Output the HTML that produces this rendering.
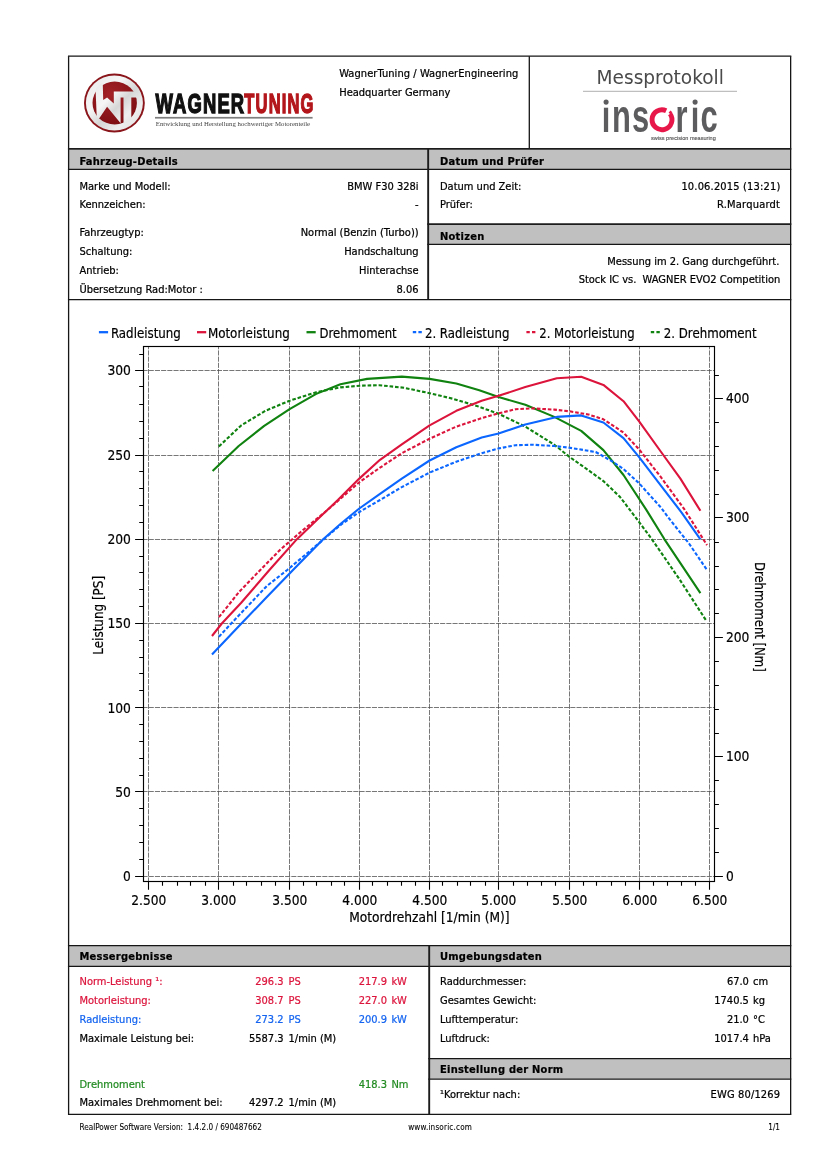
<!DOCTYPE html>
<html lang="de"><head><meta charset="utf-8"><title>Messprotokoll</title>
<style>
html,body{margin:0;padding:0;background:#fff}
body{width:826px;height:1169px;position:relative;overflow:hidden;font-family:"DejaVu Sans Condensed","DejaVu Sans",sans-serif;font-stretch:condensed;font-size:11px;color:#000}
.box{position:absolute;box-sizing:border-box}
.ln{position:absolute;background:#3c3c3c}
.gr{position:absolute;background:#c0c0c0}
.t{position:absolute;white-space:nowrap;line-height:11px;height:11px;font-size:11px;-webkit-text-stroke:0.22px currentColor}
.b{font-weight:bold;letter-spacing:0.25px}
.f{font-size:8.1px;-webkit-text-stroke:0.08px currentColor}
.red{color:#dc143c}.blue{color:#1464f0}.green{color:#228b22}
svg{position:absolute;left:0;top:0}
svg{font-family:"DejaVu Sans Condensed","DejaVu Sans",sans-serif;font-stretch:condensed}
</style></head><body>
<svg width="826" height="1169" viewBox="0 0 826 1169">
<g>
 <g fill="#c0c0c0">
  <rect x="69" y="149.4" width="721.5" height="19.6"/>
  <rect x="428.6" y="224.5" width="362" height="19.5"/>
  <rect x="69" y="946" width="721.5" height="20"/>
  <rect x="429.6" y="1059.1" width="361" height="19.7"/>
 </g>
 <g stroke="#161616" stroke-width="1.3" fill="none">
  <path d="M67.95 56.2 H791.3 M67.95 169.4 H791.3 M67.95 299.6 H791.3 M67.95 945.6 H791.3 M67.95 966.4 H791.3 M67.95 1114.4 H791.3"/>
  <path d="M427.3 244.4 H791.3 M428.3 1058.7 H791.3 M428.3 1079.2 H791.3"/>
  <path d="M68.6 56.2 V1114.4 M790.65 56.2 V1114.4 M529.3 56.2 V148.95"/>
 </g>
 <g stroke="#1c1c1c" fill="none">
  <path d="M67.95 148.95 H791.3" stroke-width="1.7"/>
  <path d="M427.3 224.07 H791.3" stroke-width="1.7"/>
  <path d="M428.17 148.95 V299.6 M429.2 945.6 V1114.4" stroke-width="1.9"/>
 </g>
</g>

<g>
 <defs>
  <radialGradient id="wg1" cx="0.4" cy="0.3" r="0.9"><stop offset="0" stop-color="#a32227"/><stop offset="1" stop-color="#74090d"/></radialGradient>
  <linearGradient id="wg2" x1="0" y1="0" x2="1" y2="1"><stop offset="0" stop-color="#e8e8e8"/><stop offset="0.35" stop-color="#f6f6f6"/><stop offset="0.55" stop-color="#d6d6d6"/><stop offset="0.75" stop-color="#eeeeee"/><stop offset="1" stop-color="#dcdcdc"/></linearGradient>
  <clipPath id="wgc"><circle cx="114.6" cy="103" r="24"/></clipPath>
 </defs>
 <g transform="translate(0 103) scale(1 0.968) translate(0 -103)">
 <circle cx="114.4" cy="103" r="30.4" fill="#8a151a"/>
 <circle cx="114.4" cy="103" r="28.5" fill="url(#wg2)"/>
 <circle cx="114.7" cy="103" r="22.2" fill="url(#wg1)"/>
 <path clip-path="url(#wgc)" d="M95.7 92.5 L96 87 L102.7 80 L103.2 99.8 L107.1 97.4 L113.8 103.6 L113.8 91.1 L139 91.1 L139 97.4 L131.3 97.4 L131.3 122 L123.5 125 L123.5 97.4 L120.6 97.4 L120.6 124 L107.1 107 L98.8 119.5 L96.7 117 Z" fill="url(#wg2)"/>
 </g>
 <g font-family="'Liberation Sans',sans-serif" font-weight="bold" font-size="28.4" stroke-width="1.25">
  <text x="0" y="0" transform="translate(155.4 113.2) scale(0.648 1)" letter-spacing="1.85" fill="#111" stroke="#111" vector-effect="non-scaling-stroke">WAGNER</text>
  <text x="0" y="0" transform="translate(244.3 113.2) scale(0.582 1)" letter-spacing="2.0" fill="#b3161b" stroke="#b3161b" vector-effect="non-scaling-stroke">TUNING</text>
 </g>
 <rect x="155" y="116.9" width="157.6" height="1.7" fill="#7e7e7e"/>
 <text x="155.8" y="126.1" font-family="'Liberation Serif',serif" font-size="6.2" fill="#444" textLength="154.3" lengthAdjust="spacingAndGlyphs">Entwicklung und Herstellung hochwertiger Motorenteile</text>
</g>

<g>
 <text x="596.6" y="83.8" font-size="19.8" fill="#4a4a4a" textLength="127.2" lengthAdjust="spacingAndGlyphs">Messprotokoll</text>
 <rect x="583" y="90.8" width="154" height="1" fill="#b0b0b0"/>
 <g font-family="'Liberation Sans',sans-serif" font-weight="bold" font-size="46.8" fill="#5c5c5f">
  <text transform="translate(601.75 131.9) scale(0.66 1)" x="0.00 15.53 45.83">ins</text>
  <text transform="translate(675.5 131.9) scale(0.66 1)" x="0.00 23.03 37.88">ric</text>
 </g>
 <rect x="602.6" y="95" width="7" height="12.7" fill="#fff"/><rect x="691.6" y="95" width="7" height="12.7" fill="#fff"/>
 <circle cx="606.1" cy="102.1" r="2.55" fill="#5c5c5f"/><circle cx="695.1" cy="102.1" r="2.55" fill="#5c5c5f"/>
 <path d="M670.05 113.85 A9.95 9.95 0 1 1 666.2 110.68" fill="none" stroke="#e8174a" stroke-width="4.9"/>
 <path d="M670.6 110.6 L672.3 112.3 L670.4 114.4 L668.6 112.6 Z" fill="#e8174a"/>
 <text x="651" y="139.9" font-family="'Liberation Sans',sans-serif" font-size="5.8" fill="#505050" stroke="#505050" stroke-width="0.12" textLength="64.8" lengthAdjust="spacingAndGlyphs">swiss precision measuring</text>
</g>
<path d="M148.5 881.5 V346.5 M218.5 881.5 V346.5 M289.5 881.5 V346.5 M359.5 881.5 V346.5 M429.5 881.5 V346.5 M498.5 881.5 V346.5 M569.5 881.5 V346.5 M639.5 881.5 V346.5 M709.5 881.5 V346.5 M143.5 876.5 H714.5 M143.5 791.5 H714.5 M143.5 707.5 H714.5 M143.5 623.5 H714.5 M143.5 539.5 H714.5 M143.5 455.5 H714.5 M143.5 370.5 H714.5" stroke="#4a4a4a" stroke-width="0.75" stroke-dasharray="5.1 1.1" stroke-dashoffset="1" fill="none"/>
<polyline points="218.9,446.4 241.2,425.4 265.4,410.8 289.6,400.7 316.2,392.2 340.4,387.4 359.8,385.7 379.2,385.2 404.2,387.8 429.6,393.2 452.6,398.7 476.9,406.0 498.6,413.8 525.3,426.6 554.3,444.7 569.5,456.9 588.4,470.2 603.4,481.1 619.9,496.8 639.3,522.3 651.9,539.3 678.7,578.1 706.2,620.6" fill="none" stroke="#0f820f" stroke-width="2.1" stroke-linejoin="round" stroke-dasharray="3.6 1.9"/>
<polyline points="212.6,470.9 238.7,446.0 264.2,425.9 289.6,409.2 316.2,393.9 340.4,384.2 367.1,378.9 401.8,376.6 429.6,378.9 456.3,383.5 479.3,390.3 498.6,397.0 525.3,404.8 554.3,416.9 581.2,430.9 603.4,450.1 623.5,475.0 646.5,510.1 664.5,539.3 700.4,593.1" fill="none" stroke="#0f820f" stroke-width="2.1" stroke-linejoin="round"/>
<polyline points="218.9,636.8 231.2,623.5 266.8,586.0 287.2,570.0 322.9,540.0 341.0,524.6 359.3,512.0 380.0,500.0 401.8,487.1 429.6,472.6 456.3,461.7 481.7,453.2 498.6,448.4 515.6,445.2 532.5,444.7 554.3,446.0 569.5,447.7 595.7,452.0 612.6,461.7 623.5,469.0 639.3,483.5 661.1,507.7 667.7,516.8 689.0,543.5 707.0,570.0" fill="none" stroke="#0a66ff" stroke-width="2.1" stroke-linejoin="round" stroke-dasharray="3.6 1.9"/>
<polyline points="212.0,654.5 241.4,623.5 265.4,598.6 293.0,570.0 322.9,539.5 341.0,523.5 359.3,508.5 380.0,493.9 401.8,478.6 429.6,460.5 456.3,447.2 481.7,437.5 498.6,433.4 525.3,424.6 556.8,416.9 581.2,415.4 603.4,422.5 623.5,438.2 639.3,457.3 661.1,485.9 681.8,512.8 700.4,539.3" fill="none" stroke="#0a66ff" stroke-width="2.1" stroke-linejoin="round"/>
<polyline points="218.9,617.2 239.2,591.8 260.3,570.0 280.0,549.9 301.8,531.0 323.6,513.3 359.3,482.3 376.6,470.0 380.0,467.7 401.8,453.2 429.6,438.7 456.3,426.6 481.7,418.1 498.6,413.3 515.6,409.2 532.5,408.4 554.3,409.6 569.5,411.3 588.4,414.5 603.4,419.3 623.5,432.6 639.3,449.6 661.1,477.4 684.1,508.9 707.0,545.1" fill="none" stroke="#dc143c" stroke-width="2.1" stroke-linejoin="round" stroke-dasharray="3.6 1.9"/>
<polyline points="212.0,636.0 221.8,623.5 241.2,602.8 269.4,570.0 296.7,539.4 323.6,513.6 338.1,499.8 359.3,478.6 380.0,459.8 401.8,444.3 429.6,425.4 456.3,410.8 481.7,400.7 498.6,395.8 525.3,387.1 556.8,378.2 581.2,376.7 603.4,384.9 623.5,401.2 639.3,421.7 661.1,452.0 680.4,478.6 700.4,510.8" fill="none" stroke="#dc143c" stroke-width="2.1" stroke-linejoin="round"/>
<rect x="143.5" y="346.5" width="571.0" height="535.0" fill="none" stroke="#000" stroke-width="1.15"/>
<path d="M135.1 876.5 H143.5 M139.2 859.5 H143.5 M139.2 842.5 H143.5 M139.2 825.5 H143.5 M139.2 808.5 H143.5 M135.1 791.5 H143.5 M139.2 775.5 H143.5 M139.2 758.5 H143.5 M139.2 741.5 H143.5 M139.2 724.5 H143.5 M135.1 707.5 H143.5 M139.2 690.5 H143.5 M139.2 673.5 H143.5 M139.2 657.5 H143.5 M139.2 640.5 H143.5 M135.1 623.5 H143.5 M139.2 606.5 H143.5 M139.2 589.5 H143.5 M139.2 572.5 H143.5 M139.2 556.5 H143.5 M135.1 539.5 H143.5 M139.2 522.5 H143.5 M139.2 505.5 H143.5 M139.2 488.5 H143.5 M139.2 471.5 H143.5 M135.1 455.5 H143.5 M139.2 438.5 H143.5 M139.2 421.5 H143.5 M139.2 404.5 H143.5 M139.2 386.5 H143.5 M135.1 370.5 H143.5 M139.2 354.5 H143.5 M714.5 876.5 H722.9 M714.5 852.5 H718.9 M714.5 828.5 H718.9 M714.5 804.5 H718.9 M714.5 780.5 H718.9 M714.5 756.5 H722.9 M714.5 733.5 H718.9 M714.5 709.5 H718.9 M714.5 685.5 H718.9 M714.5 661.5 H718.9 M714.5 637.5 H722.9 M714.5 613.5 H718.9 M714.5 589.5 H718.9 M714.5 566.5 H718.9 M714.5 542.5 H718.9 M714.5 517.5 H722.9 M714.5 494.5 H718.9 M714.5 470.5 H718.9 M714.5 446.5 H718.9 M714.5 422.5 H718.9 M714.5 398.5 H722.9 M714.5 375.5 H718.9 M148.5 881.5 V889.8 M162.5 881.5 V885.8 M177.5 881.5 V885.8 M190.5 881.5 V885.8 M205.5 881.5 V885.8 M218.5 881.5 V889.8 M233.5 881.5 V885.8 M246.5 881.5 V885.8 M261.5 881.5 V885.8 M275.5 881.5 V885.8 M289.5 881.5 V889.8 M303.5 881.5 V885.8 M316.5 881.5 V885.8 M331.5 881.5 V885.8 M344.5 881.5 V885.8 M359.5 881.5 V889.8 M372.5 881.5 V885.8 M387.5 881.5 V885.8 M401.5 881.5 V885.8 M415.5 881.5 V885.8 M429.5 881.5 V889.8 M442.5 881.5 V885.8 M457.5 881.5 V885.8 M470.5 881.5 V885.8 M485.5 881.5 V885.8 M498.5 881.5 V889.8 M513.5 881.5 V885.8 M527.5 881.5 V885.8 M541.5 881.5 V885.8 M555.5 881.5 V885.8 M569.5 881.5 V889.8 M583.5 881.5 V885.8 M596.5 881.5 V885.8 M611.5 881.5 V885.8 M625.5 881.5 V885.8 M639.5 881.5 V889.8 M653.5 881.5 V885.8 M667.5 881.5 V885.8 M681.5 881.5 V885.8 M695.5 881.5 V885.8 M709.5 881.5 V889.8" stroke="#000" stroke-width="1.1" fill="none"/>
<g font-size="13.8" fill="#000" stroke="#000" stroke-width="0.18">
<text x="130.9" y="881.4" text-anchor="end" textLength="7.8" lengthAdjust="spacingAndGlyphs">0</text>
<text x="130.9" y="797.1" text-anchor="end" textLength="15.7" lengthAdjust="spacingAndGlyphs">50</text>
<text x="130.9" y="712.7" text-anchor="end" textLength="23.5" lengthAdjust="spacingAndGlyphs">100</text>
<text x="130.9" y="628.4" text-anchor="end" textLength="23.5" lengthAdjust="spacingAndGlyphs">150</text>
<text x="130.9" y="544.1" text-anchor="end" textLength="23.5" lengthAdjust="spacingAndGlyphs">200</text>
<text x="130.9" y="459.7" text-anchor="end" textLength="23.5" lengthAdjust="spacingAndGlyphs">250</text>
<text x="130.9" y="375.4" text-anchor="end" textLength="23.5" lengthAdjust="spacingAndGlyphs">300</text>
<text x="725.9" y="881.1" textLength="7.8" lengthAdjust="spacingAndGlyphs">0</text>
<text x="725.9" y="761.1" textLength="23.5" lengthAdjust="spacingAndGlyphs">100</text>
<text x="725.9" y="642.1" textLength="23.5" lengthAdjust="spacingAndGlyphs">200</text>
<text x="725.9" y="522.1" textLength="23.5" lengthAdjust="spacingAndGlyphs">300</text>
<text x="725.9" y="403.1" textLength="23.5" lengthAdjust="spacingAndGlyphs">400</text>
<text x="148.8" y="904.9" text-anchor="middle" textLength="35.0" lengthAdjust="spacingAndGlyphs">2.500</text>
<text x="218.8" y="904.9" text-anchor="middle" textLength="35.0" lengthAdjust="spacingAndGlyphs">3.000</text>
<text x="289.8" y="904.9" text-anchor="middle" textLength="35.0" lengthAdjust="spacingAndGlyphs">3.500</text>
<text x="359.8" y="904.9" text-anchor="middle" textLength="35.0" lengthAdjust="spacingAndGlyphs">4.000</text>
<text x="429.8" y="904.9" text-anchor="middle" textLength="35.0" lengthAdjust="spacingAndGlyphs">4.500</text>
<text x="498.8" y="904.9" text-anchor="middle" textLength="35.0" lengthAdjust="spacingAndGlyphs">5.000</text>
<text x="569.8" y="904.9" text-anchor="middle" textLength="35.0" lengthAdjust="spacingAndGlyphs">5.500</text>
<text x="639.8" y="904.9" text-anchor="middle" textLength="35.0" lengthAdjust="spacingAndGlyphs">6.000</text>
<text x="709.8" y="904.9" text-anchor="middle" textLength="35.0" lengthAdjust="spacingAndGlyphs">6.500</text>
<text x="429.4" y="921.6" text-anchor="middle" textLength="160.4" lengthAdjust="spacingAndGlyphs">Motordrehzahl [1/min (M)]</text>
<text transform="translate(102.9 615.3) rotate(-90)" text-anchor="middle" textLength="78.8" lengthAdjust="spacingAndGlyphs">Leistung [PS]</text>
<text transform="translate(755.1 616.8) rotate(90)" text-anchor="middle" textLength="109.8" lengthAdjust="spacingAndGlyphs">Drehmoment [Nm]</text>
<path d="M98.9 332.2 h9.2" stroke="#0a66ff" stroke-width="2.3"/>
<text x="110.9" y="337.7" textLength="70.0" lengthAdjust="spacingAndGlyphs">Radleistung</text>
<path d="M197.0 332.2 h9.2" stroke="#dc143c" stroke-width="2.3"/>
<text x="207.9" y="337.7" textLength="81.9" lengthAdjust="spacingAndGlyphs">Motorleistung</text>
<path d="M306.5 332.2 h9.2" stroke="#0f820f" stroke-width="2.3"/>
<text x="319.5" y="337.7" textLength="77.2" lengthAdjust="spacingAndGlyphs">Drehmoment</text>
<path d="M412.8 332.2 h9.2" stroke="#0a66ff" stroke-width="2.3" stroke-dasharray="3.4 2.2"/>
<text x="424.9" y="337.7" textLength="84.5" lengthAdjust="spacingAndGlyphs">2. Radleistung</text>
<path d="M526.4 332.2 h9.2" stroke="#dc143c" stroke-width="2.3" stroke-dasharray="3.4 2.2"/>
<text x="539.2" y="337.7" textLength="95.5" lengthAdjust="spacingAndGlyphs">2. Motorleistung</text>
<path d="M650.8 332.2 h9.2" stroke="#0f820f" stroke-width="2.3" stroke-dasharray="3.4 2.2"/>
<text x="663.8" y="337.7" textLength="92.9" lengthAdjust="spacingAndGlyphs">2. Drehmoment</text>
</g>
</svg>
<div class="t " style="left:339.2px;top:67.9px;letter-spacing:0.07px">WagnerTuning / WagnerEngineering</div>
<div class="t " style="left:339.2px;top:86.9px;">Headquarter Germany</div>
<div class="t b" style="left:79.5px;top:155.6px;">Fahrzeug-Details</div>
<div class="t b" style="left:440.0px;top:155.6px;">Datum und Prüfer</div>
<div class="t b" style="left:440.0px;top:231.0px;">Notizen</div>
<div class="t b" style="left:79.5px;top:950.9px;">Messergebnisse</div>
<div class="t b" style="left:440.0px;top:950.9px;">Umgebungsdaten</div>
<div class="t b" style="left:440.0px;top:1064.2px;">Einstellung der Norm</div>
<div class="t " style="left:79.5px;top:180.7px;">Marke und Modell:</div>
<div class="t " style="right:407.4px;top:180.7px;">BMW F30 328i</div>
<div class="t " style="left:79.5px;top:198.9px;">Kennzeichen:</div>
<div class="t " style="right:407.4px;top:198.9px;">-</div>
<div class="t " style="left:79.5px;top:226.8px;">Fahrzeugtyp:</div>
<div class="t " style="right:407.4px;top:226.8px;">Normal (Benzin (Turbo))</div>
<div class="t " style="left:79.5px;top:245.7px;">Schaltung:</div>
<div class="t " style="right:407.4px;top:245.7px;">Handschaltung</div>
<div class="t " style="left:79.5px;top:264.6px;">Antrieb:</div>
<div class="t " style="right:407.4px;top:264.6px;">Hinterachse</div>
<div class="t " style="left:79.5px;top:283.5px;">Übersetzung Rad:Motor :</div>
<div class="t " style="right:407.4px;top:283.5px;">8.06</div>
<div class="t " style="left:440.0px;top:180.7px;">Datum und Zeit:</div>
<div class="t " style="right:45.5px;top:180.7px;letter-spacing:0.17px">10.06.2015 (13:21)</div>
<div class="t " style="left:440.0px;top:198.9px;">Prüfer:</div>
<div class="t " style="right:45.8px;top:198.9px;letter-spacing:0.22px">R.Marquardt</div>
<div class="t " style="right:46.7px;top:255.8px;">Messung im 2. Gang durchgeführt.</div>
<div class="t " style="right:45.7px;top:273.8px;">Stock IC vs.&nbsp; WAGNER EVO2 Competition</div>
<div class="t red" style="left:79.5px;top:975.7px;">Norm-Leistung ¹:</div>
<div class="t red" style="right:542.4px;top:975.7px;">296.3</div>
<div class="t red" style="left:288.5px;top:975.7px;">PS</div>
<div class="t red" style="right:439.0px;top:975.7px;">217.9</div>
<div class="t red" style="left:391.4px;top:975.7px;">kW</div>
<div class="t red" style="left:79.5px;top:994.7px;">Motorleistung:</div>
<div class="t red" style="right:542.4px;top:994.7px;">308.7</div>
<div class="t red" style="left:288.5px;top:994.7px;">PS</div>
<div class="t red" style="right:439.0px;top:994.7px;">227.0</div>
<div class="t red" style="left:391.4px;top:994.7px;">kW</div>
<div class="t blue" style="left:79.5px;top:1013.7px;">Radleistung:</div>
<div class="t blue" style="right:542.4px;top:1013.7px;">273.2</div>
<div class="t blue" style="left:288.5px;top:1013.7px;">PS</div>
<div class="t blue" style="right:439.0px;top:1013.7px;">200.9</div>
<div class="t blue" style="left:391.4px;top:1013.7px;">kW</div>
<div class="t " style="left:79.5px;top:1032.7px;">Maximale Leistung bei:</div>
<div class="t " style="right:542.4px;top:1032.7px;">5587.3</div>
<div class="t " style="left:288.5px;top:1032.7px;">1/min (M)</div>
<div class="t green" style="left:79.5px;top:1079.2px;">Drehmoment</div>
<div class="t green" style="right:439.0px;top:1079.2px;">418.3</div>
<div class="t green" style="left:391.4px;top:1079.2px;">Nm</div>
<div class="t " style="left:79.5px;top:1097.4px;">Maximales Drehmoment bei:</div>
<div class="t " style="right:542.4px;top:1097.4px;">4297.2</div>
<div class="t " style="left:288.5px;top:1097.4px;">1/min (M)</div>
<div class="t " style="left:440.0px;top:975.7px;">Raddurchmesser:</div>
<div class="t " style="right:77.1px;top:975.7px;">67.0</div>
<div class="t " style="left:753.0px;top:975.7px;">cm</div>
<div class="t " style="left:440.0px;top:994.7px;">Gesamtes Gewicht:</div>
<div class="t " style="right:77.1px;top:994.7px;">1740.5</div>
<div class="t " style="left:753.0px;top:994.7px;">kg</div>
<div class="t " style="left:440.0px;top:1013.7px;">Lufttemperatur:</div>
<div class="t " style="right:77.1px;top:1013.7px;">21.0</div>
<div class="t " style="left:753.0px;top:1013.7px;">°C</div>
<div class="t " style="left:440.0px;top:1032.7px;">Luftdruck:</div>
<div class="t " style="right:77.1px;top:1032.7px;">1017.4</div>
<div class="t " style="left:753.0px;top:1032.7px;">hPa</div>
<div class="t " style="left:440.0px;top:1089.0px;">¹Korrektur nach:</div>
<div class="t " style="right:45.8px;top:1089.0px;letter-spacing:0.15px">EWG 80/1269</div>
<div class="t f" style="left:79.5px;top:1121.7px;">RealPower Software Version:&nbsp; 1.4.2.0 / 690487662</div>
<div class="t f" style="left:440.0px;top:1121.7px;transform:translateX(-50%);left:440.2px;letter-spacing:0.18px">www.insoric.com</div>
<div class="t f" style="right:46.0px;top:1121.7px;">1/1</div>
</body></html>
